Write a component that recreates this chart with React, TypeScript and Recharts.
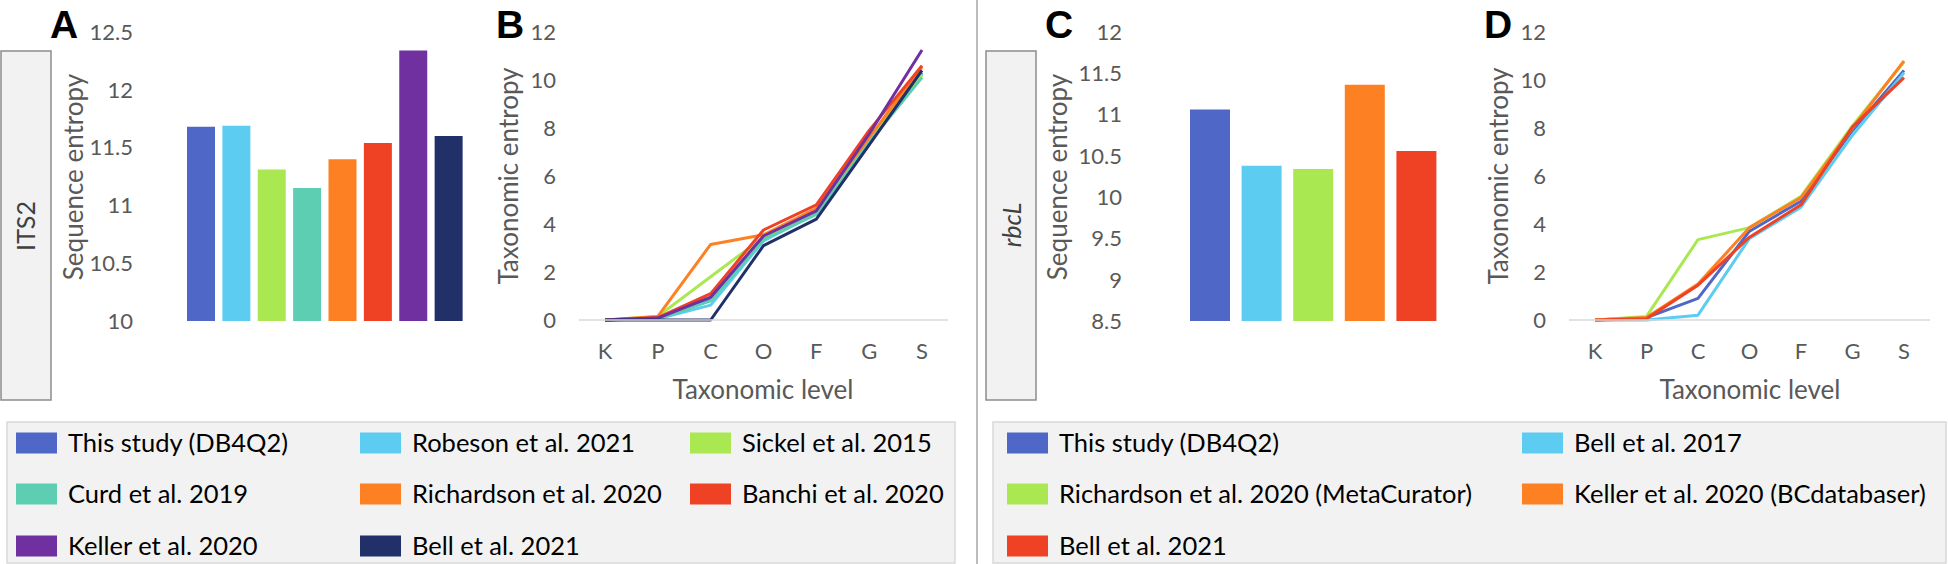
import React from 'react';
import { BarChart, Bar, Cell, LineChart, Line, XAxis, YAxis } from 'recharts';

// ITS2 panel (A, B)
const itsStudies = [
  'This study (DB4Q2)',
  'Robeson et al. 2021',
  'Sickel et al. 2015',
  'Curd et al. 2019',
  'Richardson et al. 2020',
  'Banchi et al. 2020',
  'Keller et al. 2020',
  'Bell et al. 2021',
];
const itsColors = ['#4F67C6', '#5DCCF1', '#A9E851', '#5DCEB1', '#FD8023', '#EF4124', '#7130A0', '#22306A'];
const itsSeqEntropy = [11.68, 11.69, 11.31, 11.15, 11.4, 11.54, 12.34, 11.6];

const levels = ['K', 'P', 'C', 'O', 'F', 'G', 'S'];
const itsTaxEntropy = [
  [0, 0.08, 0.9, 3.4, 4.5, 7.6, 10.3],
  [0, 0.05, 0.62, 3.3, 4.45, 7.5, 10.25],
  [0, 0.15, 1.8, 3.45, 4.55, 7.6, 10.2],
  [0, 0.05, 0.8, 3.35, 4.4, 7.4, 10.1],
  [0, 0.15, 3.15, 3.55, 4.65, 7.6, 10.55],
  [0, 0.1, 1.1, 3.75, 4.8, 7.9, 10.6],
  [0, 0.08, 0.95, 3.5, 4.55, 7.75, 11.25],
  [0, 0, 0, 3.1, 4.2, 7.3, 10.4],
];

// rbcL panel (C, D)
const rbclStudies = [
  'This study (DB4Q2)',
  'Bell et al. 2017',
  'Richardson et al. 2020 (MetaCurator)',
  'Keller et al. 2020 (BCdatabaser)',
  'Bell et al. 2021',
];
const rbclColors = ['#4F67C6', '#5DCCF1', '#A9E851', '#FD8023', '#EF4124'];
const rbclSeqEntropy = [11.06, 10.38, 10.34, 11.36, 10.56];
const rbclTaxEntropy = [
  [0, 0.1, 0.9, 3.7, 4.95, 7.9, 10.4],
  [0, 0, 0.2, 3.4, 4.7, 7.7, 10.3],
  [0, 0.15, 3.35, 3.85, 5.15, 8.1, 10.75],
  [0, 0.1, 1.5, 3.85, 5.1, 8.0, 10.8],
  [0, 0.05, 1.45, 3.45, 4.8, 8.05, 10.1],
];

const itsTicks = [10, 10.5, 11, 11.5, 12, 12.5];
const rbclTicks = [8.5, 9, 9.5, 10, 10.5, 11, 11.5, 12];
const taxTicks = [0, 2, 4, 6, 8, 10, 12];

const itsBars = itsStudies.map((s, i) => ({ study: s, entropy: itsSeqEntropy[i] }));
const rbclBars = rbclStudies.map((s, i) => ({ study: s, entropy: rbclSeqEntropy[i] }));
const toTable = (series: number[][]) =>
  levels.map((lv, j) => {
    const row: Record<string, any> = { level: lv };
    series.forEach((v, i) => (row['s' + i] = v[j]));
    return row;
  });
const itsLines = toTable(itsTaxEntropy);
const rbclLines = toTable(rbclTaxEntropy);

const FONT = 'Lato, "Open Sans", sans-serif';
const TICK = { fill: '#595959', fontSize: 22, fontFamily: FONT };
const AXIS_LINE = { stroke: '#d9d9d9', strokeWidth: 1.5 };

function YTitle({ x, y, text }: { x: number; y: number; text: string }) {
  return (
    <text transform={`translate(${x},${y}) rotate(-90)`} textAnchor="middle" fontSize={26} fill="#595959" fontFamily={FONT}>
      {text}
    </text>
  );
}

function Letter({ x, text }: { x: number; text: string }) {
  return (
    <text x={x} y={38} fontSize={39} fontWeight="bold" fill="#000" fontFamily='"Liberation Sans", Arial, sans-serif'>
      {text}
    </text>
  );
}

function LegendBox({ x, width, names, colors, cols }: { x: number; width: number; names: string[]; colors: string[]; cols: number[] }) {
  const rows = [443, 494, 546];
  const n = cols.length;
  return (
    <g>
      <rect x={x} y={422} width={width} height={141} fill="#f2f2f2" stroke="#d9d9d9" strokeWidth={1.5} />
      {names.map((name, i) => {
        const cx = cols[i % n];
        const cy = rows[Math.floor(i / n)];
        return (
          <g key={name}>
            <rect x={cx} y={cy - 10.5} width={41} height={21} fill={colors[i]} />
            <text x={cx + 52} y={cy + 9} fontSize={25.5} fill="#000" fontFamily={FONT}>
              {name}
            </text>
          </g>
        );
      })}
    </g>
  );
}

export default function App() {
  return (
    <div style={{ position: 'absolute', left: 0, top: 0, width: 1948, height: 564, background: '#fff', overflow: 'hidden' }}>
      <svg width={1948} height={564} style={{ position: 'absolute', left: 0, top: 0 }}>
        {/* side labels */}
        <rect x={1} y={51} width={50} height={349} fill="#f2f2f2" stroke="#8c8c8c" strokeWidth={1.5} />
        <text transform="translate(35,226) rotate(-90)" textAnchor="middle" fontSize={25} fill="#404040" fontFamily={FONT}>
          ITS2
        </text>
        <rect x={986} y={51} width={50} height={349} fill="#f2f2f2" stroke="#8c8c8c" strokeWidth={1.5} />
        <text transform="translate(1021,225) rotate(-90)" textAnchor="middle" fontSize={25} fontStyle="italic" fill="#404040" fontFamily={FONT}>
          rbcL
        </text>
        {/* separator */}
        <line x1={977} y1={0} x2={977} y2={564} stroke="#a6a6a6" strokeWidth={1.5} />
        <Letter x={50} text="A" />
        <Letter x={496} text="B" />
        <Letter x={1045} text="C" />
        <Letter x={1484} text="D" />
        <YTitle x={83} y={177} text="Sequence entropy" />
        <YTitle x={518} y={176} text="Taxonomic entropy" />
        <YTitle x={1067} y={177} text="Sequence entropy" />
        <YTitle x={1508} y={176} text="Taxonomic entropy" />
        <text x={763} y={399} textAnchor="middle" fontSize={26} fill="#595959" fontFamily={FONT}>
          Taxonomic level
        </text>
        <text x={1750} y={399} textAnchor="middle" fontSize={26} fill="#595959" fontFamily={FONT}>
          Taxonomic level
        </text>
        <LegendBox x={7} width={948} names={itsStudies} colors={itsColors} cols={[16, 360, 690]} />
        <LegendBox x={993} width={953} names={rbclStudies} colors={rbclColors} cols={[1007, 1522]} />
      </svg>

      {/* A: ITS2 sequence entropy */}
      <div style={{ position: 'absolute', left: 0, top: 0 }}>
        <BarChart width={500} height={420} data={itsBars} margin={{ top: 32, right: 7, bottom: 99, left: 96 }}>
          <XAxis dataKey="study" height={0} tick={false} tickLine={false} axisLine={AXIS_LINE} padding={{ left: 27, right: 27 }} />
          <YAxis width={60} domain={[10, 12.5]} ticks={itsTicks} axisLine={false} tickLine={false} tickSize={0} tickMargin={23} tick={TICK} />
          <Bar dataKey="entropy" barSize={28} isAnimationActive={false}>
            {itsColors.map((c) => (
              <Cell key={c} fill={c} />
            ))}
          </Bar>
        </BarChart>
      </div>

      {/* B: ITS2 taxonomic entropy */}
      <div style={{ position: 'absolute', left: 490, top: 0 }}>
        <LineChart width={470} height={420} data={itsLines} margin={{ top: 32, right: 12, bottom: 40, left: 29 }}>
          <XAxis dataKey="level" height={60} interval={0} axisLine={AXIS_LINE} tickLine={false} tickSize={0} tickMargin={23} tick={TICK} padding={{ left: 26, right: 26 }} />
          <YAxis width={60} domain={[0, 12]} ticks={taxTicks} axisLine={false} tickLine={false} tickSize={0} tickMargin={23} tick={TICK} />
          {itsStudies.map((s, i) => (
            <Line key={s} type="linear" dataKey={'s' + i} stroke={itsColors[i]} strokeWidth={3} strokeLinejoin="round" dot={false} isAnimationActive={false} />
          ))}
        </LineChart>
      </div>

      {/* C: rbcL sequence entropy */}
      <div style={{ position: 'absolute', left: 1040, top: 0 }}>
        <BarChart width={445} height={420} data={rbclBars} margin={{ top: 32, right: 5, bottom: 99, left: 46 }}>
          <XAxis dataKey="study" height={0} tick={false} tickLine={false} axisLine={AXIS_LINE} padding={{ left: 38, right: 38 }} />
          <YAxis width={60} domain={[8.5, 12]} ticks={rbclTicks} axisLine={false} tickLine={false} tickSize={0} tickMargin={24} tick={TICK} />
          <Bar dataKey="entropy" barSize={40} isAnimationActive={false}>
            {rbclColors.map((c) => (
              <Cell key={c} fill={c} />
            ))}
          </Bar>
        </BarChart>
      </div>

      {/* D: rbcL taxonomic entropy */}
      <div style={{ position: 'absolute', left: 1485, top: 0 }}>
        <LineChart width={463} height={420} data={rbclLines} margin={{ top: 32, right: 18, bottom: 40, left: 24 }}>
          <XAxis dataKey="level" height={60} interval={0} axisLine={AXIS_LINE} tickLine={false} tickSize={0} tickMargin={23} tick={TICK} padding={{ left: 26, right: 26 }} />
          <YAxis width={60} domain={[0, 12]} ticks={taxTicks} axisLine={false} tickLine={false} tickSize={0} tickMargin={23} tick={TICK} />
          {rbclStudies.map((s, i) => (
            <Line key={s} type="linear" dataKey={'s' + i} stroke={rbclColors[i]} strokeWidth={3} strokeLinejoin="round" dot={false} isAnimationActive={false} />
          ))}
        </LineChart>
      </div>
    </div>
  );
}
